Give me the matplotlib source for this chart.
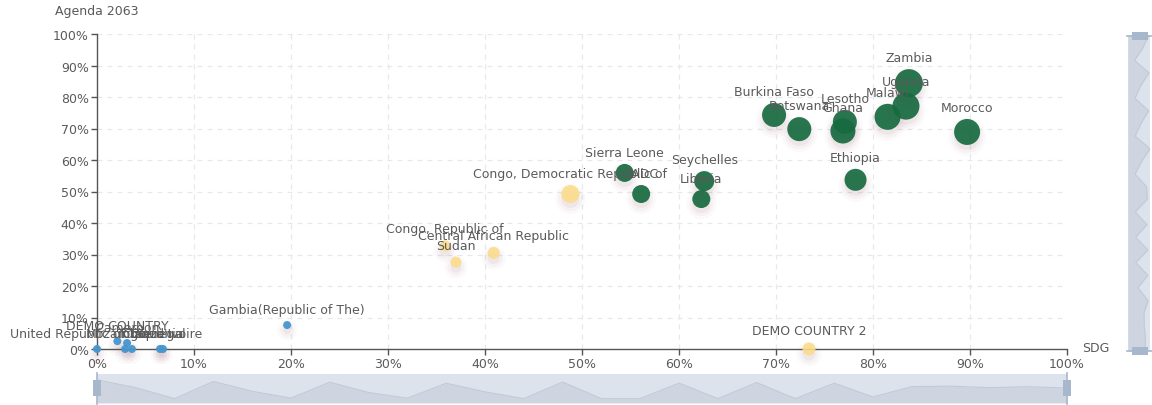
import matplotlib.pyplot as plt
import matplotlib.transforms as mtransforms
from matplotlib.patches import Rectangle
from matplotlib.lines import Line2D
import numpy as np

# green series: (SDG %, Agenda 2063 %, bubble weight)
green_names = ["Zambia", "Uganda", "Malawi", "Morocco", "Burkina Faso", "Botswana",
               "Lesotho", "Ghana", "Ethiopia", "Sierra Leone", "SADC", "Seychelles", "Liberia"]
green_x = [83.7, 83.4, 81.5, 89.7, 69.8, 72.4, 77.1, 76.9, 78.2, 54.4, 56.1, 62.6, 62.3]
green_y = [84.4, 77.1, 73.7, 68.9, 74.3, 69.8, 72.1, 69.2, 53.7, 55.9, 49.2, 53.3, 47.6]
green_w = [14, 13.5, 13, 13, 12, 12, 12, 12.5, 11, 9, 9, 10, 9]

yellow_names = ["Congo, Democratic Republic of", "Congo, Republic of", "Sudan",
                "Central African Republic", "DEMO COUNTRY 2"]
yellow_x = [48.8, 35.9, 37.0, 40.9, 73.4]
yellow_y = [49.2, 32.7, 27.6, 30.5, 0.0]
yellow_w = [9, 5.5, 5.5, 6, 6.5]

blue_names = ["United Republic of Tanzania", "DEMO COUNTRY", "Cameroon", "Mozambique",
              "Togo", "Senegal", "Côte d'Ivoire", "Gambia(Republic of The)"]
blue_x = [0.0, 2.1, 3.1, 2.9, 3.6, 6.5, 6.8, 19.6]
blue_y = [0.0, 2.5, 1.9, 0.0, 0.0, 0.0, 0.0, 7.6]
blue_w = [4, 4, 4, 4, 4, 4, 4, 4]

ticks = list(range(0, 101, 10))
tick_labels = ["{}%".format(t) for t in ticks]

W, H = 1152, 406
fig = plt.figure(figsize=(W / 100, H / 100), dpi=100)
ax = fig.add_axes([97 / W, 56 / H, 970 / W, 315 / H])
ax.set_xlim(0, 100)
ax.set_ylim(0, 100)

text_color = "#5a5a5a"
axis_color = "#555555"

# grid
for t in ticks[1:]:
    ax.axhline(t, color="#e6e8ee", lw=0.9, ls=(0, (4, 4)), zorder=0)
    ax.axvline(t, color="#e6e8ee", lw=0.9, ls=(0, (4, 4)), zorder=0)

for side in ["top", "right"]:
    ax.spines[side].set_visible(False)
for side in ["left", "bottom"]:
    ax.spines[side].set_color(axis_color)
    ax.spines[side].set_linewidth(1.0)
ax.set_xticks(ticks)
ax.set_yticks(ticks)
ax.set_xticklabels(tick_labels)
ax.set_yticklabels(tick_labels)
ax.tick_params(direction="out", length=4, width=1, color=axis_color,
               labelcolor=text_color, labelsize=9, pad=2)


def draw_series(xs, ys, ws, names, color, alpha):
    # soft pinkish shadow below each bubble
    tr = mtransforms.offset_copy(ax.transData, fig=fig, x=0, y=-5, units="dots")
    for k, a in [(6, 0.025), (3, 0.035), (0, 0.05)]:
        ax.scatter(xs, ys, s=[(1.44 * (w + k)) ** 2 for w in ws], color=(0.47, 0.14, 0.2),
                   alpha=a, lw=0, transform=tr, zorder=2, clip_on=False)
    ax.scatter(xs, ys, s=[(1.44 * w) ** 2 for w in ws], color=color, alpha=alpha,
               lw=0, zorder=3, clip_on=False)
    for x, y, w, n in zip(xs, ys, ws, names):
        ax.annotate(n, (x, y), xytext=(0, (w + 5) * 0.72), textcoords="offset points",
                    ha="center", va="bottom", fontsize=9, color=text_color,
                    zorder=5, annotation_clip=False)


draw_series(yellow_x, yellow_y, yellow_w, yellow_names, "#fcdc8c", 0.9)
draw_series(blue_x, blue_y, blue_w, blue_names, "#4596cd", 0.95)
draw_series(green_x, green_y, green_w, green_names, "#176a40", 0.92)

# axis names
fig.text(97 / W, 1 - 12 / H, "Agenda 2063", ha="center", va="center", fontsize=9, color=text_color)
fig.text(1082 / W, 1 - 349 / H, "SDG", ha="left", va="center", fontsize=9, color=text_color)


# dataZoom sliders with data shadow (series interleaved, in data order)
def interleave(*lists):
    out = []
    for i in range(max(len(l) for l in lists)):
        for l in lists:
            if i < len(l):
                out.append(l[i])
    return np.array(out)


shadow_y = interleave(green_y, yellow_y, blue_y)
shadow_x = interleave(green_x, yellow_x, blue_x)
bg = "#dde3ec"
shade = "#ced5e0"
handle = "#a7b7cc"

sx = fig.add_axes([97 / W, 2 / H, 970 / W, 29 / H])
sx.set_xlim(0, 1)
sx.set_ylim(0, 1)
sx.axis("off")
sx.add_patch(Rectangle((0, 0), 1, 1, color=bg, lw=0))
pos = np.linspace(0, 1, len(shadow_y))
vals = 0.15 + 0.65 * (shadow_y - shadow_y.min()) / (shadow_y.max() - shadow_y.min())
sx.fill_between(pos, 0, vals, color=shade, lw=0)
sx.plot(pos, vals, color="#c2cad7", lw=0.8)

sy = fig.add_axes([1128 / W, 54 / H, 22 / W, 316 / H])
sy.set_xlim(0, 1)
sy.set_ylim(0, 1)
sy.axis("off")
sy.add_patch(Rectangle((0, 0), 1, 1, color=bg, lw=0))
pos = np.linspace(1, 0, len(shadow_x))
vals = 0.3 + 0.7 * (shadow_x - shadow_x.min()) / (shadow_x.max() - shadow_x.min())
sy.fill_betweenx(pos, 0, vals, color=shade, lw=0)
sy.plot(vals, pos, color="#c2cad7", lw=0.8)

# slider handles (pixel coordinates of the figure)
for hx in [97, 1067]:
    fig.add_artist(Line2D([hx / W, hx / W], [1 - 405 / H, 1 - 374 / H], color=handle, lw=1.2))
    fig.add_artist(Rectangle(((hx - 4) / W, 1 - 397 / H), 8 / W, 16 / H, color=handle, lw=0))
for hy in [37, 352]:
    fig.add_artist(Line2D([1127 / W, 1152 / W], [1 - hy / H, 1 - hy / H], color=handle, lw=1.2))
    fig.add_artist(Rectangle((1132 / W, 1 - (hy + 4) / H), 16 / W, 8 / H, color=handle, lw=0))

fig.savefig("out.png", dpi=100)
